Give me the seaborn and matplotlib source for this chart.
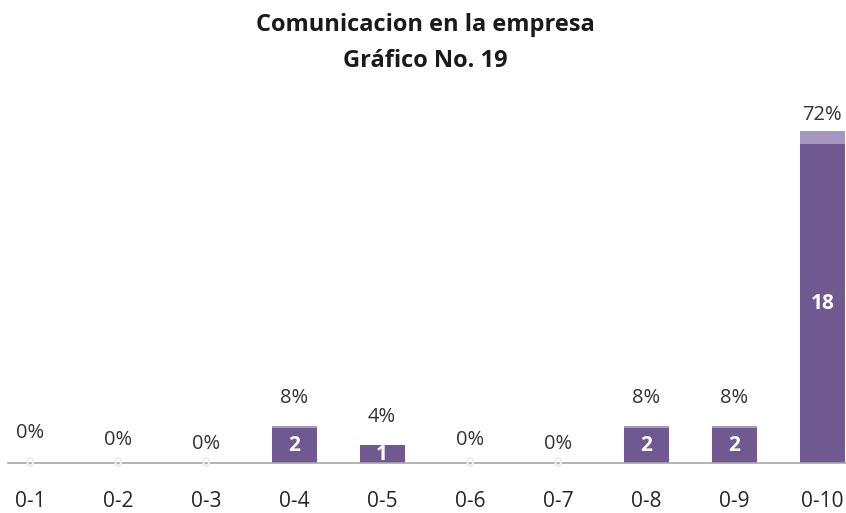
import matplotlib
matplotlib.use("Agg")
import matplotlib.pyplot as plt
import seaborn as sns
import pandas as pd

categories = ["0-1", "0-2", "0-3", "0-4", "0-5", "0-6", "0-7", "0-8", "0-9", "0-10"]
counts = [0, 0, 0, 2, 1, 0, 0, 2, 2, 18]
shares = [0.00, 0.00, 0.00, 0.08, 0.04, 0.00, 0.00, 0.08, 0.08, 0.72]
share_labels = ["0%", "0%", "0%", "8%", "4%", "0%", "0%", "8%", "8%", "72%"]
# vertical gap (points) between stack top and its percentage label
label_gap = [21.5, 16.5, 13.5, 20.5, 20, 16.5, 13.5, 20.5, 20.5, 11.5]

sns.set_theme(style="white")
plt.rcParams["font.family"] = ["Open Sans", "DejaVu Sans"]

dark = "#6f5990"
light = "#a597bf"

df = pd.DataFrame({
    "cat": categories,
    "count": counts,
    "total": [c + s for c, s in zip(counts, shares)],
})

fig = plt.figure(figsize=(8.46, 5.13), dpi=100)
ax = fig.add_axes([8 / 846, 50 / 513, 838 / 846, 0.8064 - 50 / 513])

sns.barplot(data=df, x="cat", y="total", color=light, width=0.51,
            saturation=1, ax=ax, order=categories, linewidth=0)
sns.barplot(data=df, x="cat", y="count", color=dark, width=0.51,
            saturation=1, ax=ax, order=categories, linewidth=0)

ax.set_xlim(-0.25, 9.27)
ax.set_ylim(0, 20.5)
for s in ["top", "right", "left"]:
    ax.spines[s].set_visible(False)
ax.spines["bottom"].set_color("#a6a6a6")
ax.spines["bottom"].set_linewidth(1.2)
ax.spines["bottom"].set_zorder(5)
ax.set_yticks([])
ax.set_xlabel("")
ax.set_ylabel("")
ax.tick_params(axis="x", length=0, pad=20, labelsize=15, labelcolor="#262626")

for i, (c, t, lab, g) in enumerate(zip(counts, df["total"], share_labels, label_gap)):
    ax.annotate(lab, (i, t), xytext=(0, g), textcoords="offset points",
                ha="center", va="center", fontsize=14.5, color="#333333")
    if c > 0:
        ax.text(i, c / 2, str(c), ha="center", va="center", fontsize=15,
                fontweight="bold", color="white", zorder=4)
    else:
        ax.text(i, 0, "0", ha="center", va="center", fontsize=11,
                fontweight="bold", color="#ececec", zorder=6)

fig.text(0.503, 0.951, "Comunicacion en la empresa", ha="center", va="center",
         fontsize=17, fontweight="bold", color="#1a1a1a")
fig.text(0.503, 0.882, "Gráfico No. 19", ha="center", va="center",
         fontsize=17, fontweight="bold", color="#1a1a1a")

fig.savefig("out.png", dpi=100)
